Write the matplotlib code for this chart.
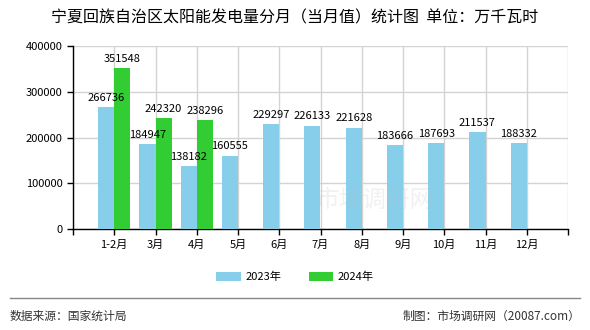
import numpy as np
import matplotlib
matplotlib.use("Agg")
import matplotlib.pyplot as plt

plt.rcParams['font.family'] = ['Noto Sans CJK SC', 'DejaVu Sans']

months = ['1-2月', '3月', '4月', '5月', '6月', '7月', '8月', '9月', '10月', '11月', '12月']
v2023 = [266736, 184947, 138182, 160555, 229297, 226133, 221628, 183666, 187693, 211537, 188332]
v2024 = [351548, 242320, 238296]

c2023 = '#87CEEB'
c2024 = '#32CD32'
w = 0.39

fig = plt.figure(figsize=(5.9, 3.3), dpi=100)
ax = fig.add_axes([73/590, 1-229/330, (568-73)/590, (229-46)/330])

x = np.arange(len(months))
x24 = np.arange(len(v2024))
ax.bar(x - w/2, v2023, w, color=c2023, label='2023年', zorder=3)
ax.bar(x24 + w/2, v2024, w, color=c2024, label='2024年', zorder=3)

for xi, v in zip(x, v2023):
    ax.text(xi - w/2, v + 9000, str(v), ha='center', va='bottom', fontsize=8, zorder=4)
for xi, v in zip(x24, v2024):
    ax.text(xi + w/2, v + 9000, str(v), ha='center', va='bottom', fontsize=8, zorder=4)

ax.set_xlim(-1, len(months))
ax.set_ylim(0, 400000)
ax.set_yticks(np.arange(0, 400001, 100000))
ax.set_xticks(np.arange(-1, len(months) + 1))
ax.set_xticklabels([''] + months + [''])
ax.tick_params(axis='both', labelsize=8, length=4, width=1)
ax.grid(True, color='#d3d3d3', linewidth=1, zorder=0)
for s in ['top', 'right']:
    ax.spines[s].set_visible(False)
ax.spines['left'].set_linewidth(1)
ax.spines['bottom'].set_linewidth(1)

# watermark
fig.text(375/590, 1-200/330, '市场调研网', fontsize=17, color='#bbbbbb', alpha=0.2, ha='center', va='center')

fig.text(0.5, 1-18/330, '宁夏回族自治区太阳能发电量分月（当月值）统计图  单位：万千瓦时',
         ha='center', va='center', fontsize=11.5)

fig.legend(loc='center', bbox_to_anchor=(0.5, 1-277/330), ncol=2, frameon=False,
           fontsize=8, handlelength=2.2, handleheight=0.8, columnspacing=2.5, handletextpad=0.4)

fig.add_artist(plt.Line2D([10/590, 580/590], [1-298/330, 1-298/330], color='#888888', linewidth=1))
fig.text(10/590, 1-316/330, '数据来源：国家统计局', ha='left', va='center', fontsize=8.5, color='#333333')
fig.text(580/590, 1-316/330, '制图：市场调研网（20087.com）', ha='right', va='center', fontsize=8.5, color='#333333')

fig.savefig('out.png', dpi=100)
